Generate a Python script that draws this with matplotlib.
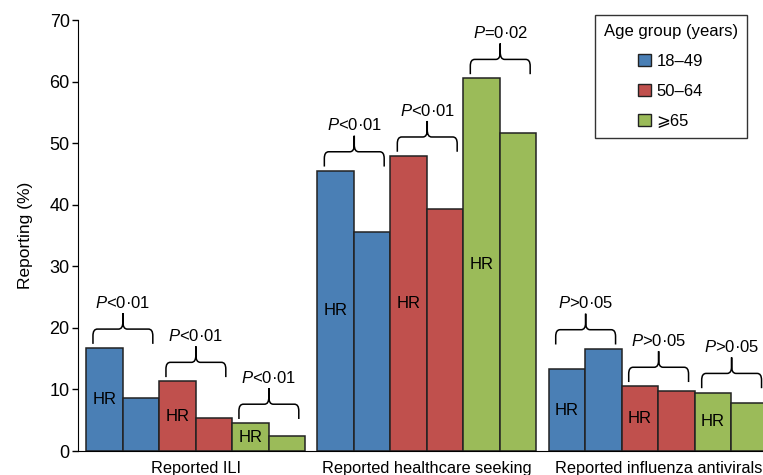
import matplotlib
matplotlib.use("Agg")
import matplotlib.pyplot as plt
from matplotlib.path import Path
from matplotlib.patches import PathPatch, Patch
import numpy as np

plt.rcParams['font.family'] = ['Liberation Sans', 'DejaVu Sans']
plt.rcParams['mathtext.fontset'] = 'custom'
plt.rcParams['mathtext.rm'] = 'Liberation Sans'
plt.rcParams['mathtext.it'] = 'Liberation Sans:italic'

# data: (HR, non-HR) for each age group
categories = ["Reported ILI", "Reported healthcare seeking", "Reported influenza antivirals"]
age_groups = ["18\u201349", "50\u201364", "\u2a7e65"]
colors = ["#4a7fb5", "#c0504d", "#9bbb59"]

hr_vals = [[16.7, 11.3, 4.5],
           [45.5, 47.9, 60.5],
           [13.3, 10.5, 9.5]]
nonhr_vals = [[8.6, 5.4, 2.4],
              [35.5, 39.3, 51.7],
              [16.6, 9.8, 7.8]]
p_labels = [["<0\u00b701", "<0\u00b701", "<0\u00b701"],
            ["<0\u00b701", "<0\u00b701", "=0\u00b702"],
            [">0\u00b705", ">0\u00b705", ">0\u00b705"]]


def brace(ax, x0, x1, y0, h1=2.4, h2=2.6, rx=0.12):
    # curly brace opening downwards, returns position of its tip
    xc = (x0 + x1) / 2
    ys = y0 + h1
    verts = [(x0, y0), (x0, ys - h1 * 0.45), (x0, ys), (x0 + rx, ys),
             (xc - rx, ys), (xc, ys), (xc, ys + h2 * 0.45), (xc, ys + h2),
             (xc, ys + h2 * 0.45), (xc, ys), (xc + rx, ys),
             (x1 - rx, ys), (x1, ys), (x1, ys - h1 * 0.45), (x1, y0)]
    codes = [Path.MOVETO, Path.LINETO, Path.CURVE3, Path.CURVE3,
             Path.LINETO, Path.CURVE3, Path.CURVE3, Path.LINETO,
             Path.LINETO, Path.CURVE3, Path.CURVE3,
             Path.LINETO, Path.CURVE3, Path.CURVE3, Path.LINETO]
    ax.add_patch(PathPatch(Path(verts, codes), fill=False, lw=1.1,
                           edgecolor='black', clip_on=False))
    return xc, ys + h2


fig = plt.figure(figsize=(7.63, 4.75), dpi=100)
ax = fig.add_axes([78 / 763, 24 / 475, 1 - 78 / 763, 431 / 475])

gap = 0.34
group_w = 6 + gap
centers = []
for g in range(3):
    start = g * group_w
    centers.append(start + 3)
    for a in range(3):
        xl = start + 2 * a
        ax.bar([xl, xl + 1], [hr_vals[g][a], nonhr_vals[g][a]], width=1,
               align='edge', color=colors[a], edgecolor='#222222', lw=1.1)
        ax.text(xl + 0.5, hr_vals[g][a] / 2, "HR", ha='center', va='center',
                fontsize=12)
        top = max(hr_vals[g][a], nonhr_vals[g][a]) + 0.7
        tx, ty = brace(ax, xl + 0.19, xl + 1.83, top)
        ax.text(tx, ty + 0.4, r"$P$" + p_labels[g][a], ha='center',
                va='bottom', fontsize=12, clip_on=False)

ax.set_xlim(-0.22, 18.55)
ax.set_ylim(0, 70)
ax.set_yticks(np.arange(0, 71, 10))
ax.set_xticks(centers)
ax.set_xticklabels(categories, fontsize=11.8)
ax.tick_params(axis='x', length=0, pad=7)
ax.tick_params(axis='y', length=4, width=1, pad=2, labelsize=13)
ax.spines['top'].set_visible(False)
ax.spines['right'].set_visible(False)
ax.spines['left'].set_bounds(0, 70)
ax.set_ylabel("Reporting (%)", fontsize=12.5, labelpad=12)

handles = [Patch(facecolor=c, edgecolor='#222222', lw=1) for c in colors]
leg = ax.legend(handles, age_groups, title="Age group (years)",
                loc='upper right', bbox_to_anchor=(747 / 763, 460 / 475),
                bbox_transform=fig.transFigure, frameon=True, fancybox=False,
                edgecolor='black', fontsize=12, title_fontsize=12,
                handlelength=0.75, handleheight=0.75, handletextpad=0.35,
                labelspacing=0.9, alignment='center', borderpad=0.55,
                borderaxespad=0)
leg.get_frame().set_linewidth(1)

fig.savefig("out.png", dpi=100)
